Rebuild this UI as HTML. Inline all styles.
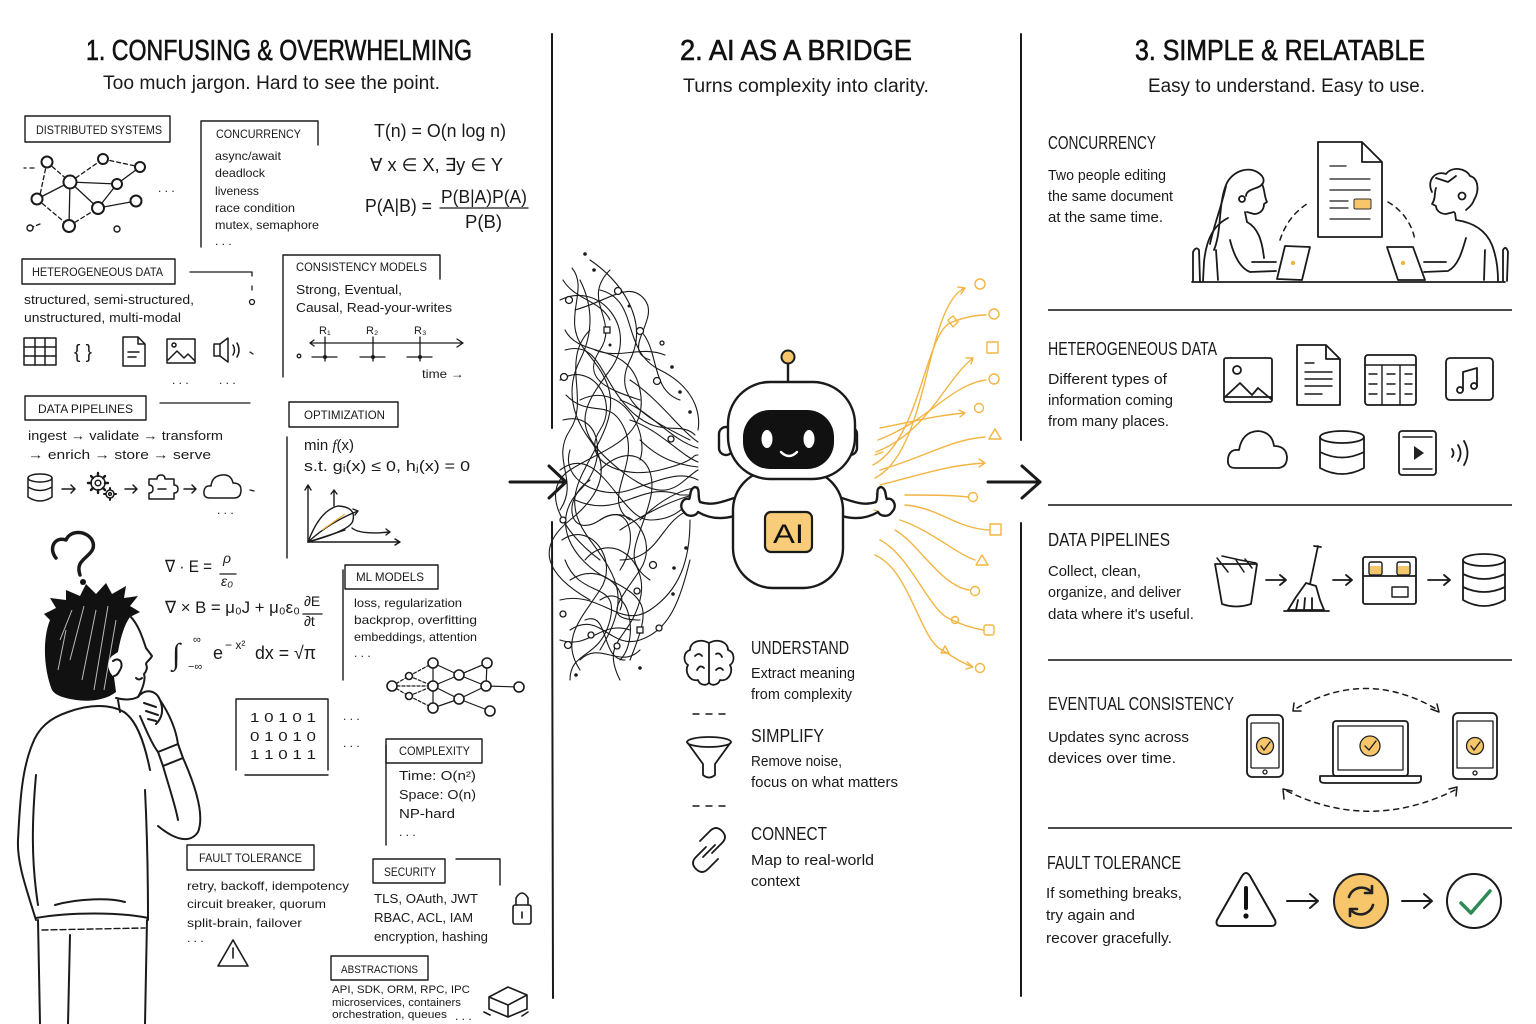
<!DOCTYPE html>
<html><head><meta charset="utf-8"><style>
html,body{margin:0;padding:0;background:#fff;}
svg{display:block;}
.t{font-family:"Liberation Sans",sans-serif;fill:#1a1a1a;}
.hd{font-family:"Liberation Sans Narrow","Liberation Sans",sans-serif;fill:#111;stroke:#111;stroke-width:0.6;}
.s{stroke:#1a1a1a;fill:none;stroke-linecap:round;stroke-linejoin:round;}
.y{stroke:#F2B543;fill:none;stroke-linecap:round;stroke-linejoin:round;}
</style></head><body>
<svg width="1536" height="1024" viewBox="0 0 1536 1024" xmlns="http://www.w3.org/2000/svg">
<rect width="1536" height="1024" fill="#fff"/>

<!-- HEADERS -->
<text class="hd" x="86" y="60" font-size="29" textLength="386" lengthAdjust="spacingAndGlyphs">1. CONFUSING &amp; OVERWHELMING</text>
<text class="t" x="103" y="89" font-size="19" textLength="337" lengthAdjust="spacingAndGlyphs">Too much jargon. Hard to see the point.</text>
<text class="hd" x="680" y="60" font-size="29" textLength="232" lengthAdjust="spacingAndGlyphs">2. AI AS A BRIDGE</text>
<text class="t" x="683" y="92" font-size="19" textLength="246" lengthAdjust="spacingAndGlyphs">Turns complexity into clarity.</text>
<text class="hd" x="1135" y="60" font-size="29" textLength="290" lengthAdjust="spacingAndGlyphs">3. SIMPLE &amp; RELATABLE</text>
<text class="t" x="1148" y="92" font-size="19" textLength="277" lengthAdjust="spacingAndGlyphs">Easy to understand. Easy to use.</text>

<!-- DIVIDERS -->
<g class="s" stroke-width="2">
<path d="M552,34 L552,428"/><path d="M552,522 L553,998"/>
<path d="M1021,34 L1021,440"/><path d="M1021,523 L1021,996"/>
</g>
<!-- big arrows -->
<g class="s" stroke-width="3">
<path d="M510,482 L566,482"/><path d="M549,466 L566,482 L549,498"/>
<path d="M988,482 L1040,482"/><path d="M1022,466 L1040,482 L1022,498"/>
</g>

<!-- ============ LEFT COLUMN ============ -->
<g class="s" stroke-width="1.4">
<rect x="25" y="116" width="145" height="26"/>
<path d="M201,247 L201,121 L318,121 L318,145"/>
<rect x="22" y="259" width="153" height="25"/>
<path d="M283,377 L283,255 L440,255 L440,279"/>
<rect x="25" y="396" width="121" height="24"/>
<rect x="289" y="402" width="109" height="25"/>
<path d="M287,437 L287,558"/>
<rect x="345" y="565" width="93" height="24"/>
<path d="M343,570 L343,680"/>
<path d="M236,770 L236,699 L328,699 L328,770 M245,775 L328,775"/>
<rect x="386" y="739" width="96" height="24"/>
<path d="M386,745 L386,845"/>
<rect x="187" y="845" width="127" height="25"/>
<rect x="373" y="859" width="72" height="24"/>
<path d="M456,859 L500,859 L500,885"/>
<rect x="331" y="956" width="97" height="24"/>
</g>

<g class="t" font-size="12">
<text x="36" y="134" textLength="126" lengthAdjust="spacingAndGlyphs">DISTRIBUTED SYSTEMS</text>
<text x="216" y="138" textLength="85" lengthAdjust="spacingAndGlyphs">CONCURRENCY</text>
<text x="215" y="160" textLength="66" lengthAdjust="spacingAndGlyphs">async/await</text>
<text x="215" y="177" textLength="50" lengthAdjust="spacingAndGlyphs">deadlock</text>
<text x="215" y="195" textLength="44" lengthAdjust="spacingAndGlyphs">liveness</text>
<text x="215" y="212" textLength="80" lengthAdjust="spacingAndGlyphs">race condition</text>
<text x="215" y="229" textLength="104" lengthAdjust="spacingAndGlyphs">mutex, semaphore</text>
<text x="215" y="245">. . .</text>
<text x="32" y="276" textLength="131" lengthAdjust="spacingAndGlyphs">HETEROGENEOUS DATA</text>
<text x="24" y="304" font-size="13" textLength="170" lengthAdjust="spacingAndGlyphs">structured, semi-structured,</text>
<text x="24" y="322" font-size="13" textLength="157" lengthAdjust="spacingAndGlyphs">unstructured, multi-modal</text>
<text x="296" y="271" textLength="131" lengthAdjust="spacingAndGlyphs">CONSISTENCY MODELS</text>
<text x="296" y="294" font-size="13" textLength="106" lengthAdjust="spacingAndGlyphs">Strong, Eventual,</text>
<text x="296" y="312" font-size="13" textLength="156" lengthAdjust="spacingAndGlyphs">Causal, Read-your-writes</text>
<text x="319" y="334" font-size="11">R₁</text>
<text x="366" y="334" font-size="11">R₂</text>
<text x="414" y="334" font-size="11">R₃</text>
<text x="422" y="378" textLength="42" lengthAdjust="spacingAndGlyphs">time →</text>
<text x="38" y="413" textLength="95" lengthAdjust="spacingAndGlyphs">DATA PIPELINES</text>
<text x="28" y="440" font-size="13" textLength="195" lengthAdjust="spacingAndGlyphs">ingest → validate → transform</text>
<text x="28" y="459" font-size="13" textLength="183" lengthAdjust="spacingAndGlyphs">→ enrich → store → serve</text>
<text x="304" y="419" textLength="81" lengthAdjust="spacingAndGlyphs">OPTIMIZATION</text>
<text x="304" y="450" font-size="15">min  <tspan font-family="Liberation Serif" font-style="italic">f</tspan>(x)</text>
<text x="304" y="471" font-size="15" textLength="166" lengthAdjust="spacingAndGlyphs">s.t.  gᵢ(x) ≤ 0,  hⱼ(x) = 0</text>
<text x="356" y="581" textLength="68" lengthAdjust="spacingAndGlyphs">ML MODELS</text>
<text x="354" y="607" textLength="108" lengthAdjust="spacingAndGlyphs">loss, regularization</text>
<text x="354" y="624" textLength="123" lengthAdjust="spacingAndGlyphs">backprop, overfitting</text>
<text x="354" y="641" textLength="123" lengthAdjust="spacingAndGlyphs">embeddings, attention</text>
<text x="354" y="657">. . .</text>
<text x="250" y="722" font-size="13" textLength="66" lengthAdjust="spacingAndGlyphs">1 0 1 0 1</text>
<text x="250" y="741" font-size="13" textLength="66" lengthAdjust="spacingAndGlyphs">0 1 0 1 0</text>
<text x="250" y="759" font-size="13" textLength="66" lengthAdjust="spacingAndGlyphs">1 1 0 1 1</text>
<text x="343" y="720">. . .</text>
<text x="343" y="747">. . .</text>
<text x="399" y="755" textLength="71" lengthAdjust="spacingAndGlyphs">COMPLEXITY</text>
<text x="399" y="780" font-size="13" textLength="77" lengthAdjust="spacingAndGlyphs">Time:  O(n²)</text>
<text x="399" y="799" font-size="13" textLength="77" lengthAdjust="spacingAndGlyphs">Space:  O(n)</text>
<text x="399" y="818" font-size="13" textLength="56" lengthAdjust="spacingAndGlyphs">NP-hard</text>
<text x="399" y="836">. . .</text>
<text x="199" y="862" textLength="103" lengthAdjust="spacingAndGlyphs">FAULT TOLERANCE</text>
<text x="187" y="890" textLength="162" lengthAdjust="spacingAndGlyphs">retry, backoff, idempotency</text>
<text x="187" y="908" textLength="139" lengthAdjust="spacingAndGlyphs">circuit breaker, quorum</text>
<text x="187" y="927" textLength="115" lengthAdjust="spacingAndGlyphs">split-brain, failover</text>
<text x="187" y="942">. . .</text>
<text x="384" y="876" textLength="52" lengthAdjust="spacingAndGlyphs">SECURITY</text>
<text x="374" y="903" font-size="13" textLength="104" lengthAdjust="spacingAndGlyphs">TLS, OAuth, JWT</text>
<text x="374" y="922" font-size="13" textLength="99" lengthAdjust="spacingAndGlyphs">RBAC, ACL, IAM</text>
<text x="374" y="941" font-size="13" textLength="114" lengthAdjust="spacingAndGlyphs">encryption, hashing</text>
<text x="341" y="973" font-size="11" textLength="77" lengthAdjust="spacingAndGlyphs">ABSTRACTIONS</text>
<text x="332" y="993" font-size="11" textLength="138" lengthAdjust="spacingAndGlyphs">API, SDK, ORM, RPC, IPC</text>
<text x="332" y="1006" font-size="11" textLength="129" lengthAdjust="spacingAndGlyphs">microservices, containers</text>
<text x="332" y="1018" font-size="11" textLength="115" lengthAdjust="spacingAndGlyphs">orchestration, queues</text>
<text x="455" y="1020">. . .</text>
<text x="158" y="192">. . .</text>
<text x="172" y="384">. . .</text>
<text x="219" y="384">. . .</text>
<text x="217" y="514">. . .</text>
</g>

<!-- formulas -->
<g class="t" font-size="18">
<text x="374" y="137" textLength="132" lengthAdjust="spacingAndGlyphs">T(n) = O(n log n)</text>
<text x="370" y="171" textLength="133" lengthAdjust="spacingAndGlyphs">∀ x ∈ X, ∃y ∈ Y</text>
<text x="365" y="212" textLength="67" lengthAdjust="spacingAndGlyphs">P(A|B) =</text>
<text x="441" y="203" textLength="86" lengthAdjust="spacingAndGlyphs">P(B|A)P(A)</text>
<text x="465" y="228" textLength="37" lengthAdjust="spacingAndGlyphs">P(B)</text>
<text x="165" y="572" font-size="17" textLength="47" lengthAdjust="spacingAndGlyphs">∇ · E =</text>
<text x="223" y="563" font-size="14" font-style="italic">ρ</text>
<text x="221" y="586" font-size="14" font-style="italic">ε₀</text>
<text x="165" y="613" font-size="17" textLength="135" lengthAdjust="spacingAndGlyphs">∇ × B = μ₀J + μ₀ε₀</text>
<text x="304" y="606" font-size="14">∂E</text>
<text x="304" y="626" font-size="14">∂t</text>
<text x="172" y="664" font-size="30" font-family="Liberation Serif">∫</text>
<text x="193" y="643" font-size="11">∞</text>
<text x="188" y="670" font-size="11">−∞</text>
<text x="213" y="659" font-size="18">e</text>
<text x="225" y="649" font-size="12">− x²</text>
<text x="255" y="659" font-size="18" textLength="61" lengthAdjust="spacingAndGlyphs">dx = √π</text>
</g>
<g class="s" stroke-width="1.3">
<path d="M440,208 L528,208"/>
<path d="M220,574 L236,574"/>
<path d="M303,614 L322,614"/>
</g>

<!-- distributed graph -->
<g class="s" stroke-width="1.3">
<path d="M47,162 L70,182 M70,182 L103,159" stroke-dasharray="4 3"/>
<path d="M70,182 L37,199 M70,182 L98,208 M70,182 L69,226 M98,208 L117,184 M98,208 L136,201 M117,184 L140,167 M70,182 L117,184" />
<path d="M47,162 L40,195 M37,199 L69,226 M103,159 L140,167 M69,226 L98,208 M30,228 L40,224" stroke-dasharray="4 3"/>
<path d="M30,168 L34,168 M24,168 L26,168"/>
</g>
<g stroke="#1a1a1a" stroke-width="2" fill="#fff">
<circle cx="47" cy="162" r="5.5"/><circle cx="70" cy="182" r="6.5"/><circle cx="103" cy="159" r="5"/>
<circle cx="140" cy="167" r="5"/><circle cx="117" cy="184" r="5"/><circle cx="37" cy="199" r="5.5"/>
<circle cx="98" cy="208" r="6"/><circle cx="136" cy="201" r="5.5"/><circle cx="69" cy="226" r="6"/>
<circle cx="30" cy="228" r="3" stroke-width="1.4"/><circle cx="117" cy="229" r="3" stroke-width="1.4"/>
</g>

<!-- connectors near heterogeneous -->
<g class="s" stroke-width="1.3">
<path d="M190,272 L252,272 L252,276"/>
<path d="M252,286 L252,290"/>
<circle cx="252" cy="302" r="2.5"/>
<path d="M160,403 L250,403"/>
<path d="M250,352 L253,354"/>
<path d="M250,490 L254,491"/>
</g>

<!-- heterogeneous icons -->
<g class="s" stroke-width="1.5">
<rect x="24" y="338" width="32" height="27"/>
<path d="M24,347 L56,347 M24,356 L56,356 M35,338 L35,365 M45,338 L45,365"/>
<path d="M123,337 L138,337 L145,344 L145,366 L123,366 Z M138,337 L138,344 L145,344 M128,352 L139,352 M128,357 L136,357"/>
<rect x="167" y="339" width="28" height="24"/>
<circle cx="174" cy="345" r="2"/>
<path d="M168,360 L177,351 L184,358 L188,354 L195,361"/>
<path d="M214,344 L220,344 L228,338 L228,362 L220,356 L214,356 Z M220,344 L220,356 M233,345 Q236,350 233,355 M237,343 Q241,350 237,357"/>
</g>
<text class="t" x="74" y="358" font-size="19">{ }</text>

<!-- consistency timeline -->
<g class="s" stroke-width="1.3">
<path d="M310,343 L463,343 M457,339 L463,343 L457,347 M310,343 L314,340 M310,343 L314,346"/>
<path d="M325,337 L325,361 M373,337 L373,361 M420,337 L420,361"/>
<path d="M312,357 L337,357 M360,357 L385,357 M407,357 L432,357"/>
<circle cx="299" cy="356" r="1.8"/>
</g>
<g fill="#1a1a1a"><circle cx="325" cy="357" r="2"/><circle cx="373" cy="357" r="2"/><circle cx="420" cy="357" r="2"/></g>

<!-- pipeline icons -->
<g class="s" stroke-width="1.5">
<ellipse cx="40" cy="478" rx="12" ry="4"/>
<path d="M28,478 L28,497 Q40,505 52,497 L52,478 M28,487 Q40,494 52,487"/>
<path d="M62,489 L75,489 M71,485 L75,489 L71,493 M125,489 L137,489 M133,485 L137,489 L133,493 M184,489 L196,489 M192,485 L196,489 L192,493"/>
<circle cx="98" cy="483" r="7"/>
<circle cx="98" cy="483" r="2.8"/>
<path d="M98,473 L98,476 M98,490 L98,493 M88,483 L91,483 M105,483 L108,483 M91,476 L93,478 M103,488 L105,490 M105,476 L103,478 M91,490 L93,488" stroke-width="2.4"/>
<circle cx="110" cy="494" r="4"/>
<circle cx="110" cy="494" r="1.4"/>
<path d="M110,488 L110,489.5 M110,498.5 L110,500 M104,494 L105.5,494 M114.5,494 L116,494" stroke-width="2"/>
<path d="M149,479 L157,479 Q157,475 161,475 Q165,475 165,479 L174,479 L174,485 Q178,485 178,489 Q178,493 174,493 L174,499 L149,499 L149,493 Q153,493 153,489 Q153,485 149,485 Z M158,489 L166,489"/>
<path d="M210,498 Q203,498 204,491 Q205,485 211,486 Q212,476 222,475 Q231,474 233,483 Q241,483 241,490 Q241,498 234,498 Z"/>
</g>

<!-- optimization graph -->
<g class="s" stroke-width="1.4">
<path d="M308,542 L308,485 M305,490 L308,485 L311,490"/>
<path d="M308,542 L400,542 M395,539 L400,542 L395,545"/>
<path d="M308,542 Q320,510 338,506 Q356,507 353,520 Q352,530 308,542"/>
<path d="M308,542 Q330,522 358,511 M353,509 L358,511 L355,515"/>
<path d="M308,542 Q330,535 345,530"/>
<path d="M334,506 L334,490 M331,494 L334,490 L337,494"/>
<path d="M352,528 Q360,535 390,532 M386,529 L390,532 L386,535"/>
</g>
<path d="M322,530 L345,514" stroke="#F2B543" stroke-width="1.2"/>

<!-- NN graph -->
<g class="s" stroke-width="1.2">
<path d="M392,686 L409,676 L433,663 M392,686 L409,696 L433,708 M392,686 L433,686" stroke-dasharray="3 2"/>
<path d="M433,663 L459,675 L487,663 M433,686 L459,675 L486,686 M433,686 L459,699 L486,686 M433,708 L459,699 L490,711 M459,675 L486,686 M487,663 L486,686 M459,699 L486,686 M486,686 L519,687 M433,663 L433,708"/>
<path d="M409,676 L433,686 M409,696 L433,686 M459,675 L487,663" stroke-dasharray="3 2"/>
</g>
<g stroke="#1a1a1a" stroke-width="1.6" fill="#fff">
<circle cx="392" cy="686" r="5"/><circle cx="409" cy="676" r="3.5"/><circle cx="409" cy="696" r="3.5"/>
<circle cx="433" cy="663" r="5"/><circle cx="433" cy="686" r="5"/><circle cx="433" cy="708" r="5"/>
<circle cx="459" cy="675" r="5"/><circle cx="459" cy="699" r="5"/>
<circle cx="487" cy="663" r="5"/><circle cx="486" cy="686" r="5"/><circle cx="490" cy="711" r="5"/><circle cx="519" cy="687" r="5"/>
</g>

<!-- warning, lock, box -->
<g class="s" stroke-width="1.6">
<path d="M233,940 L248,966 L218,966 Z"/>
<path d="M233,948 L233,958"/>
<rect x="513" y="905" width="18" height="19" rx="2"/>
<path d="M516,905 L516,898 Q522,888 528,898 L528,905"/>
<path d="M522,912 L522,918"/>
<path d="M489,997 L508,987 L527,995 L508,1005 Z M489,997 L489,1009 L508,1017 L527,1009 L527,995 M508,1005 L508,1017 M484,1012 L490,1015 M528,1012 L522,1016"/>
</g>

<!-- PERSON -->
<g class="s" stroke-width="3.5">
<path d="M56,558 C48,548 55,536 66,540 C70,530 86,530 92,540 C98,552 84,556 80,564 C78,568 79,572 80,575"/>
</g>
<circle cx="83" cy="582" r="3" fill="#111"/>
<path d="M52,690 C44,670 42,640 50,620 L44,614 L56,608 L50,598 L66,600 L66,590 L80,596 L86,584 L96,594 L106,583 L112,594 L126,586 L124,598 L138,596 L130,606 L140,612 L130,617 C124,625 120,640 118,652 L112,656 C106,662 108,672 114,677 L116,692 C106,700 90,702 76,700 C64,698 56,696 52,690 Z" fill="#111"/>
<g stroke="#fff" stroke-width="1" fill="none" opacity="0.7">
<path d="M60,640 L72,610 M70,660 L84,606 M82,680 L96,610 M94,690 L108,606 M104,690 L116,620 M58,670 L66,630"/>
</g>
<g class="s" stroke-width="2">
<path d="M130,616 C138,624 142,636 146,648 L152,656 C150,660 146,662 146,664 C148,668 146,672 144,674 C146,680 142,690 138,697 C132,700 124,700 116,698"/>
<path d="M113,661 C120,656 124,664 120,670 C118,674 116,676 114,676"/>
<path d="M136,678 C138,680 140,680 142,678"/>
<path d="M138,697 C145,688 156,690 160,700 C164,710 162,718 156,724 M144,703 L156,707 M146,711 L158,715 M148,719 L156,721"/>
<path d="M160,700 C170,715 176,730 178,744 M140,716 C146,730 152,744 158,752"/>
<path d="M158,752 L178,744 L183,758 L163,766 Z"/>
<path d="M183,758 C195,785 205,815 198,832 C190,844 175,840 158,826 M163,766 C170,790 176,808 178,820"/>
<path d="M118,700 L120,712"/>
<path d="M68,712 C90,704 110,704 124,712"/>
<path d="M68,712 C50,718 38,728 32,745 C22,770 20,800 18,840 C17,862 25,885 36,920"/>
<path d="M36,775 C32,820 31,860 38,905"/>
<path d="M124,712 C136,720 144,740 150,770 M145,790 C147,830 148,880 148,920"/>
<path d="M36,918 C70,912 120,912 148,918 M55,905 C80,898 110,898 125,902"/>
<path d="M38,920 L40,1024 M147,920 L145,1024 M70,935 L68,1024"/>
<path d="M42,930 L145,928" stroke-dasharray="6 3" stroke-width="1.4"/>
</g>

<!-- ============ MIDDLE ============ -->
<!-- tangle -->
<g class="s" stroke-width="1.1">
<path d="M572,268 C590,290 560,320 585,350 S620,400 600,440 S560,500 590,540 S630,600 600,650"/>
<path d="M560,300 C600,280 640,330 610,370 S570,430 620,470 S680,480 698,470"/>
<path d="M565,330 C580,360 630,340 640,390 S600,450 570,470 S560,530 600,560"/>
<path d="M590,260 C620,280 650,320 630,360 S650,420 690,440"/>
<path d="M560,380 C590,360 620,400 600,430 S620,480 660,470 S690,455 698,455"/>
<path d="M563,420 C600,410 610,460 580,490 S570,560 610,580 S650,610 630,660"/>
<path d="M570,450 C560,480 600,500 630,490 S680,470 698,480"/>
<path d="M575,500 C620,520 640,480 680,495 L698,495"/>
<path d="M562,540 C590,520 620,560 600,590 S560,640 580,670"/>
<path d="M585,560 C610,530 650,560 640,600 S600,640 620,680"/>
<path d="M560,600 C600,590 620,630 650,610 S690,560 690,520"/>
<path d="M600,290 C640,300 620,350 660,370 S700,420 698,430"/>
<path d="M565,350 C600,340 600,380 630,410 S680,420 695,435"/>
<path d="M570,630 C600,610 610,650 640,640 S680,600 690,560"/>
<path d="M560,470 C600,440 620,520 650,520 S690,500 698,490"/>
<path d="M590,330 C560,360 590,400 570,430 S580,480 560,510"/>
<path d="M610,270 C580,300 620,320 600,350 S610,390 640,400"/>
<path d="M600,470 C630,440 660,460 650,500 S620,560 650,580"/>
<path d="M580,400 C620,380 650,430 640,460"/>
<path d="M620,560 C660,560 660,520 690,510"/>
<path d="M565,560 C580,600 620,580 610,620 S570,650 570,680"/>
<path d="M580,280 Q600,320 580,360 T590,440 T570,520 T590,600"/>
<path d="M600,600 C630,580 640,640 620,660"/>
<path d="M640,330 C660,350 650,390 680,400"/>
<path d="M560,640 C590,650 600,620 630,630"/>
<path d="M620,400 C650,410 670,440 698,448"/>
<path d="M630,420 C660,430 680,455 698,462"/>
<path d="M640,520 C660,500 680,490 698,487"/>
<path d="M620,530 C650,510 680,497 698,494"/>
<path d="M630,380 C660,400 680,430 698,442"/>
<path d="M575,310 C610,300 630,280 645,300 S620,350 650,360"/>
<path d="M566,395 C590,420 610,395 625,430 S600,500 630,520"/>
<path d="M590,480 C560,500 570,540 600,520 S640,540 620,570"/>
<path d="M600,520 C630,500 660,540 640,570 S600,620 640,620"/>
<path d="M563,280 C575,300 600,300 610,320"/>
<path d="M570,580 C600,560 630,590 620,610"/>
<path d="M585,620 C610,610 600,660 625,660"/>
<path d="M640,440 C660,460 680,465 698,467"/>
<path d="M595,350 C620,360 640,345 665,355"/>
<path d="M580,660 C600,640 620,670 640,650"/>
</g>
<g stroke="#1a1a1a" stroke-width="1.3" fill="#fff">
<circle cx="618" cy="291" r="3.5"/><circle cx="569" cy="300" r="3.5"/><circle cx="640" cy="331" r="3.5"/>
<circle cx="662" cy="343" r="2"/><circle cx="564" cy="377" r="3.5"/><circle cx="657" cy="381" r="3.5"/>
<circle cx="671" cy="439" r="3"/><circle cx="563" cy="520" r="3"/><circle cx="653" cy="565" r="3.5"/>
<circle cx="563" cy="614" r="3"/><circle cx="568" cy="645" r="3.5"/><circle cx="591" cy="635" r="3"/>
<circle cx="617" cy="646" r="3"/><circle cx="637" cy="591" r="3"/><circle cx="659" cy="628" r="3"/>
<rect x="637" y="627" width="6" height="6"/><rect x="604" y="327" width="6" height="6"/>
</g>
<g fill="#1a1a1a">
<circle cx="585" cy="254" r="1.8"/><circle cx="594" cy="270" r="1.8"/><circle cx="629" cy="306" r="1.5"/>
<circle cx="672" cy="367" r="1.8"/><circle cx="680" cy="392" r="1.8"/><circle cx="690" cy="412" r="1.8"/>
<circle cx="686" cy="548" r="1.8"/><circle cx="674" cy="568" r="1.8"/><circle cx="673" cy="594" r="1.8"/>
<circle cx="640" cy="668" r="1.8"/><circle cx="576" cy="675" r="1.8"/><circle cx="610" cy="345" r="1.5"/>
</g>

<!-- yellow flows -->
<g class="y" stroke-width="1.4">
<path d="M875,478 C930,450 925,305 965,288 M958,287 L965,288 L961,294"/>
<circle cx="980" cy="284" r="5"/>
<path d="M873,465 C920,440 925,335 950,323 C962,318 975,315 986,315"/>
<path d="M948,320 L953,316 L958,322 L953,327 Z"/>
<circle cx="994" cy="314" r="5"/>
<path d="M876,452 C928,432 945,380 973,358 M966,358 L973,358 L971,364"/>
<rect x="987" y="342" width="11" height="11"/>
<path d="M878,440 C930,420 950,385 986,380"/>
<circle cx="994" cy="379" r="5"/>
<path d="M880,428 C920,420 940,415 965,413 M959,410 L965,413 L960,417"/>
<circle cx="979" cy="408" r="4.5"/>
<path d="M880,470 C930,455 950,440 985,437"/>
<path d="M995,429 L1001,439 L989,439 Z"/>
<path d="M880,485 C930,472 950,465 985,463 M979,459 L985,463 L979,467"/>
<path d="M905,495 C930,495 950,495 968,497"/>
<circle cx="973" cy="497" r="4.5"/>
<path d="M905,505 C940,508 955,528 989,530"/>
<rect x="990" y="524" width="11" height="11"/>
<path d="M900,520 C930,530 955,553 975,560"/>
<path d="M982,555 L988,565 L976,565 Z"/>
<path d="M895,530 C920,545 940,585 969,590"/>
<circle cx="975" cy="591" r="4.5"/>
<path d="M880,540 C910,555 930,612 950,619 C960,624 972,628 983,630"/>
<circle cx="955" cy="620" r="3.5"/>
<rect x="984" y="625" width="10" height="10" rx="2"/>
<path d="M875,555 C910,570 920,640 942,650 C955,658 962,663 973,667 M967,662 L973,667 L966,669"/>
<path d="M945,646 L949,653 L941,653 Z"/>
<circle cx="980" cy="668" r="4.5"/>
<path d="M875,455 L883,452 M876,494 L884,490 M874,510 L882,512"/>
</g>

<!-- ROBOT -->
<g stroke="#1a1a1a" stroke-width="2.4" fill="#fff" stroke-linecap="round" stroke-linejoin="round">
<path d="M734,498 C722,502 712,506 700,502 M734,516 C720,520 708,518 698,512" fill="none"/>
<path d="M700,502 C697,496 701,488 695,487 C689,489 691,497 689,499 C683,497 678,506 684,512 C688,518 696,516 698,512" fill="#fff"/>
<path d="M842,498 C854,502 864,506 876,502 M842,516 C856,520 868,518 878,512" fill="none"/>
<path d="M876,502 C879,496 875,488 881,487 C887,489 885,497 887,499 C893,497 898,506 892,512 C888,518 880,516 878,512" fill="#fff"/>
<rect x="733" y="470" width="110" height="118" rx="40"/>
<path d="M788,382 L788,364" fill="none"/>
<rect x="719" y="427" width="14" height="28" rx="7"/>
<rect x="843" y="427" width="14" height="28" rx="7"/>
<rect x="728" y="382" width="127" height="97" rx="42"/>
</g>
<circle cx="788" cy="357" r="6.5" fill="#F7C66B" stroke="#1a1a1a" stroke-width="2"/>
<rect x="743" y="410" width="91" height="59" rx="27" fill="#111"/>
<ellipse cx="767" cy="439" rx="5.5" ry="9" fill="#fff"/>
<ellipse cx="809" cy="439" rx="5.5" ry="9" fill="#fff"/>
<path d="M781,452 Q789,460 797,452" stroke="#fff" stroke-width="2.4" fill="none" stroke-linecap="round"/>
<rect x="765" y="512" width="47" height="40" rx="6" fill="#F8CC78" stroke="#1a1a1a" stroke-width="2.2"/>
<text x="773" y="543" font-family="Liberation Sans,sans-serif" font-size="27" fill="#111" textLength="31" lengthAdjust="spacingAndGlyphs">AI</text>

<!-- middle list -->
<g class="s" stroke-width="1.8">
<path d="M709,643 C700,638 690,642 690,650 C683,652 683,662 688,665 C684,672 690,682 698,680 C700,686 708,686 709,682 C710,686 718,686 720,680 C728,682 734,672 730,665 C735,662 735,652 728,650 C728,642 718,638 709,643 Z M709,643 L709,683"/>
<path d="M695,656 Q699,652 702,656 M697,670 Q700,664 704,668 M716,654 Q720,652 722,657 M716,670 Q720,666 723,670"/>
<ellipse cx="709" cy="742" rx="22" ry="5"/>
<path d="M687,742 L703,764 L703,775 Q709,780 715,775 L715,764 L731,742"/>
<path d="M700,841 L710,831 Q716,825 722,831 Q728,837 722,843 L712,853"/>
<path d="M718,859 L708,869 Q702,875 696,869 Q690,863 696,857 L706,847"/>
<path d="M703,857 L715,845"/>
<path d="M693,714 L699,714 M706,714 L712,714 M719,714 L725,714 M693,806 L699,806 M706,806 L712,806 M719,806 L725,806" stroke-width="1.4"/>
</g>
<g class="t">
<text x="751" y="654" font-size="18" textLength="98" lengthAdjust="spacingAndGlyphs">UNDERSTAND</text>
<text x="751" y="678" font-size="15" textLength="104" lengthAdjust="spacingAndGlyphs">Extract meaning</text>
<text x="751" y="699" font-size="15" textLength="101" lengthAdjust="spacingAndGlyphs">from complexity</text>
<text x="751" y="742" font-size="18" textLength="73" lengthAdjust="spacingAndGlyphs">SIMPLIFY</text>
<text x="751" y="766" font-size="15" textLength="91" lengthAdjust="spacingAndGlyphs">Remove noise,</text>
<text x="751" y="787" font-size="15" textLength="147" lengthAdjust="spacingAndGlyphs">focus on what matters</text>
<text x="751" y="840" font-size="18" textLength="76" lengthAdjust="spacingAndGlyphs">CONNECT</text>
<text x="751" y="865" font-size="15" textLength="123" lengthAdjust="spacingAndGlyphs">Map to real-world</text>
<text x="751" y="886" font-size="15" textLength="49" lengthAdjust="spacingAndGlyphs">context</text>
</g>

<!-- ============ RIGHT COLUMN ============ -->
<g stroke="#333" stroke-width="1.8" fill="none">
<path d="M1048,310 L1512,310 M1048,505 L1512,505 M1048,660 L1512,660 M1048,828 L1512,828"/>
</g>
<g class="t">
<text x="1048" y="149" font-size="18" textLength="108" lengthAdjust="spacingAndGlyphs">CONCURRENCY</text>
<text x="1048" y="180" font-size="15" textLength="118" lengthAdjust="spacingAndGlyphs">Two people editing</text>
<text x="1048" y="201" font-size="15" textLength="125" lengthAdjust="spacingAndGlyphs">the same document</text>
<text x="1048" y="222" font-size="15" textLength="115" lengthAdjust="spacingAndGlyphs">at the same time.</text>
<text x="1048" y="355" font-size="18" textLength="169" lengthAdjust="spacingAndGlyphs">HETEROGENEOUS DATA</text>
<text x="1048" y="384" font-size="15" textLength="119" lengthAdjust="spacingAndGlyphs">Different types of</text>
<text x="1048" y="405" font-size="15" textLength="125" lengthAdjust="spacingAndGlyphs">information coming</text>
<text x="1048" y="426" font-size="15" textLength="121" lengthAdjust="spacingAndGlyphs">from many places.</text>
<text x="1048" y="546" font-size="18" textLength="122" lengthAdjust="spacingAndGlyphs">DATA PIPELINES</text>
<text x="1048" y="576" font-size="15" textLength="93" lengthAdjust="spacingAndGlyphs">Collect, clean,</text>
<text x="1048" y="597" font-size="15" textLength="133" lengthAdjust="spacingAndGlyphs">organize, and deliver</text>
<text x="1048" y="619" font-size="15" textLength="146" lengthAdjust="spacingAndGlyphs">data where it's useful.</text>
<text x="1048" y="710" font-size="18" textLength="186" lengthAdjust="spacingAndGlyphs">EVENTUAL CONSISTENCY</text>
<text x="1048" y="742" font-size="15" textLength="141" lengthAdjust="spacingAndGlyphs">Updates sync across</text>
<text x="1048" y="763" font-size="15" textLength="128" lengthAdjust="spacingAndGlyphs">devices over time.</text>
<text x="1047" y="869" font-size="18" textLength="134" lengthAdjust="spacingAndGlyphs">FAULT TOLERANCE</text>
<text x="1046" y="898" font-size="15" textLength="136" lengthAdjust="spacingAndGlyphs">If something breaks,</text>
<text x="1046" y="920" font-size="15" textLength="89" lengthAdjust="spacingAndGlyphs">try again and</text>
<text x="1046" y="943" font-size="15" textLength="126" lengthAdjust="spacingAndGlyphs">recover gracefully.</text>
</g>

<!-- concurrency illustration -->
<g class="s" stroke-width="1.8">
<path d="M1192,282 L1505,282"/>
<path d="M1318,142 L1362,142 L1382,162 L1382,237 L1318,237 Z M1362,142 L1362,162 L1382,162" fill="#fff"/>
<path d="M1330,166 L1346,166 M1330,179 L1370,179 M1330,190 L1370,190 M1330,201 L1348,201 M1330,208 L1348,208 M1330,219 L1370,219" stroke-width="1.3"/>
<path d="M1280,240 Q1288,215 1310,202 M1388,202 Q1410,215 1415,240" stroke-dasharray="5 5" stroke-width="1.5"/>
<!-- woman -->
<path d="M1214,250 C1222,230 1218,205 1226,185 C1232,170 1252,164 1262,176 C1266,182 1262,186 1256,188 C1250,190 1246,192 1246,196"/>
<path d="M1226,186 C1222,205 1214,225 1210,244"/>
<path d="M1262,184 C1265,190 1264,196 1267,202 L1264,204 C1264,210 1260,214 1254,214 L1247,212"/>
<circle cx="1242" cy="199" r="3"/>
<path d="M1245,212 L1247,222 M1228,218 C1212,226 1206,242 1204,262 L1203,281 M1247,222 C1258,228 1262,240 1264,258"/>
<path d="M1230,240 C1234,256 1240,268 1250,272 L1276,271 M1252,262 L1276,262 M1216,250 L1218,280"/>
<path d="M1193,252 L1193,281 M1199,250 L1200,281 M1193,252 Q1196,246 1199,250"/>
<path d="M1285,246 L1310,247 L1302,280 L1277,279 Z" fill="#fff"/>
<!-- man -->
<path d="M1432,192 C1426,180 1436,170 1446,174 C1452,166 1466,168 1470,176 C1478,178 1480,190 1474,200 C1472,206 1468,208 1466,210 M1436,178 L1448,182 L1456,176"/>
<path d="M1436,188 C1434,194 1436,198 1432,204 L1436,206 C1436,210 1440,214 1446,214 L1454,212"/>
<circle cx="1462" cy="196" r="3.5"/>
<path d="M1455,213 L1456,220 C1470,222 1485,228 1492,245 C1497,258 1498,270 1498,281"/>
<path d="M1466,238 C1462,252 1458,266 1448,271 L1424,272 M1446,262 L1424,262 M1485,250 L1484,280"/>
<path d="M1503,250 L1503,281 M1508,252 L1507,281 M1503,250 Q1506,245 1508,252"/>
<path d="M1387,247 L1413,247 L1425,280 L1398,280 Z" fill="#fff"/>
</g>
<rect x="1354" y="199" width="17" height="10" rx="1.5" fill="#F7C66B" stroke="#333" stroke-width="1"/>
<circle cx="1293" cy="263" r="2.2" fill="#F2B543"/>
<circle cx="1403" cy="263" r="2.2" fill="#F2B543"/>

<!-- heterogeneous icons right -->
<g class="s" stroke-width="1.8">
<rect x="1224" y="358" width="48" height="44" rx="2"/>
<circle cx="1237" cy="370" r="4"/>
<path d="M1225,397 L1240,383 L1252,395 L1258,388 L1271,399 M1225,397 L1271,397"/>
<path d="M1297,345 L1326,345 L1340,359 L1340,405 L1297,405 Z M1326,345 L1326,359 L1340,359"/>
<path d="M1305,363 L1314,363 M1305,372 L1332,372 M1305,379 L1332,379 M1305,386 L1332,386 M1305,394 L1322,394" stroke-width="1.4"/>
<rect x="1365" y="355" width="51" height="50" rx="3"/>
<path d="M1365,365 L1416,365 M1382,365 L1382,405 M1400,365 L1400,405" stroke-width="1.4"/>
<path d="M1369,374 L1377,374 M1387,374 L1395,374 M1405,374 L1412,374 M1369,384 L1377,384 M1387,384 L1395,384 M1405,384 L1412,384 M1369,394 L1377,394 M1387,394 L1395,394 M1405,394 L1412,394" stroke-width="1.4"/>
<rect x="1446" y="358" width="47" height="42" rx="4"/>
<path d="M1463,390 L1463,372 L1477,368 L1477,386"/>
<circle cx="1460" cy="390" r="3"/><circle cx="1474" cy="386" r="3"/>
<path d="M1235,468 Q1227,468 1228,459 Q1229,449 1239,450 Q1242,432 1258,431 Q1272,432 1274,446 Q1286,446 1287,457 Q1287,468 1277,468 Z"/>
<ellipse cx="1342" cy="437" rx="22" ry="6"/>
<path d="M1320,437 L1320,468 Q1342,480 1364,468 L1364,437 M1320,452 Q1342,463 1364,452"/>
<rect x="1399" y="431" width="37" height="44" rx="3"/>
<path d="M1403,437 L1432,437 M1403,469 L1432,469" stroke-width="1.4"/>
<path d="M1452,449 Q1455,453 1452,457 M1458,445 Q1463,453 1458,461 M1464,441 Q1471,453 1464,465"/>
</g>
<path d="M1414,446 L1414,460 L1424,453 Z" fill="#222"/>

<!-- data pipeline icons -->
<g class="s" stroke-width="1.8">
<path d="M1215,564 L1257,564 L1251,604 Q1236,609 1222,604 Z"/>
<path d="M1217,558 L1228,572 M1222,556 L1240,560 L1256,563 M1236,560 L1244,572 M1245,559 L1252,568" stroke-width="1.5"/>
<path d="M1266,580 L1286,580 M1280,575 L1286,580 L1280,585"/>
<path d="M1318,546 L1310,584 M1314,546 L1321,547"/>
<path d="M1306,583 L1316,586 L1320,600 L1324,610 L1288,610 L1296,597 Z M1296,610 L1298,600 M1304,610 L1305,598 M1312,610 L1312,598 M1284,611 L1329,611"/>
<path d="M1333,580 L1352,580 M1346,575 L1352,580 L1346,585"/>
<rect x="1363" y="557" width="53" height="47" rx="2"/>
<path d="M1363,576 L1416,576"/>
<rect x="1369" y="562" width="13" height="13" rx="2" stroke-width="1.4"/>
<rect x="1397" y="562" width="13" height="13" rx="2" stroke-width="1.4"/>
<rect x="1392" y="587" width="16" height="10" stroke-width="1.4"/>
<path d="M1428,580 L1450,580 M1444,575 L1450,580 L1444,585"/>
<ellipse cx="1484" cy="560" rx="21" ry="6"/>
<path d="M1463,560 L1463,600 Q1484,612 1505,600 L1505,560 M1463,574 Q1484,584 1505,574 M1463,587 Q1484,597 1505,587"/>
</g>
<rect x="1370" y="566" width="11" height="8" fill="#F7C66B"/>
<rect x="1398" y="566" width="11" height="8" fill="#F7C66B"/>

<!-- eventual consistency -->
<g class="s" stroke-width="1.8">
<rect x="1247" y="715" width="36" height="62" rx="5"/>
<rect x="1251" y="723" width="28" height="45" rx="1" stroke-width="1.3"/>
<circle cx="1265" cy="772" r="2" stroke-width="1.3"/>
<rect x="1333" y="721" width="75" height="55" rx="3"/>
<rect x="1338" y="726" width="65" height="44" stroke-width="1.3"/>
<path d="M1320,776 L1421,776 L1421,780 Q1421,783 1416,783 L1325,783 Q1320,783 1320,780 Z"/>
<rect x="1453" y="713" width="44" height="66" rx="5"/>
<rect x="1457" y="721" width="36" height="47" stroke-width="1.3"/>
<circle cx="1475" cy="773" r="2" stroke-width="1.3"/>
<path d="M1297,708 Q1367,668 1438,710" stroke-dasharray="5 5" stroke-width="1.5"/>
<path d="M1294,703 L1293,711 L1301,711 M1431,709 L1439,712 L1437,704" stroke-width="1.5"/>
<path d="M1287,791 Q1370,832 1455,790" stroke-dasharray="5 5" stroke-width="1.5"/>
<path d="M1284,799 L1283,789 L1292,791 M1449,789 L1457,787 L1456,796" stroke-width="1.5"/>
</g>
<g stroke="#222" stroke-width="1.3" fill="#F7C66B">
<circle cx="1265" cy="746" r="8.5"/><circle cx="1370" cy="746" r="10"/><circle cx="1475" cy="746" r="8.5"/>
</g>
<g stroke="#222" stroke-width="1.4" fill="none" stroke-linecap="round">
<path d="M1261,746 L1264,750 L1270,742 M1365,746 L1369,750 L1376,741 M1471,746 L1474,750 L1480,742"/>
</g>

<!-- fault tolerance -->
<g class="s" stroke-width="2">
<path d="M1242,876 Q1246,870 1250,876 L1275,920 Q1277,926 1271,926 L1221,926 Q1215,926 1217,920 Z"/>
<path d="M1287,901 L1318,901 M1310,894 L1318,901 L1310,908"/>
<path d="M1402,901 L1432,901 M1424,894 L1432,901 L1424,908"/>
<circle cx="1474" cy="901" r="27"/>
</g>
<path d="M1246,888 L1246,908" stroke="#111" stroke-width="4" stroke-linecap="round"/>
<circle cx="1246" cy="916" r="2.6" fill="#111"/>
<circle cx="1361" cy="901" r="27" fill="#F7C66B" stroke="#222" stroke-width="2"/>
<g stroke="#222" stroke-width="2.6" fill="none" stroke-linecap="round" stroke-linejoin="round">
<path d="M1349,897 A13,13 0 0 1 1372,893 M1372,886 L1372,893 L1365,893"/>
<path d="M1373,905 A13,13 0 0 1 1350,909 M1350,916 L1350,909 L1357,909"/>
</g>
<path d="M1461,903 L1471,913 L1490,891" stroke="#2E8B57" stroke-width="3.5" fill="none" stroke-linecap="round" stroke-linejoin="round"/>
</svg>
</body></html>
